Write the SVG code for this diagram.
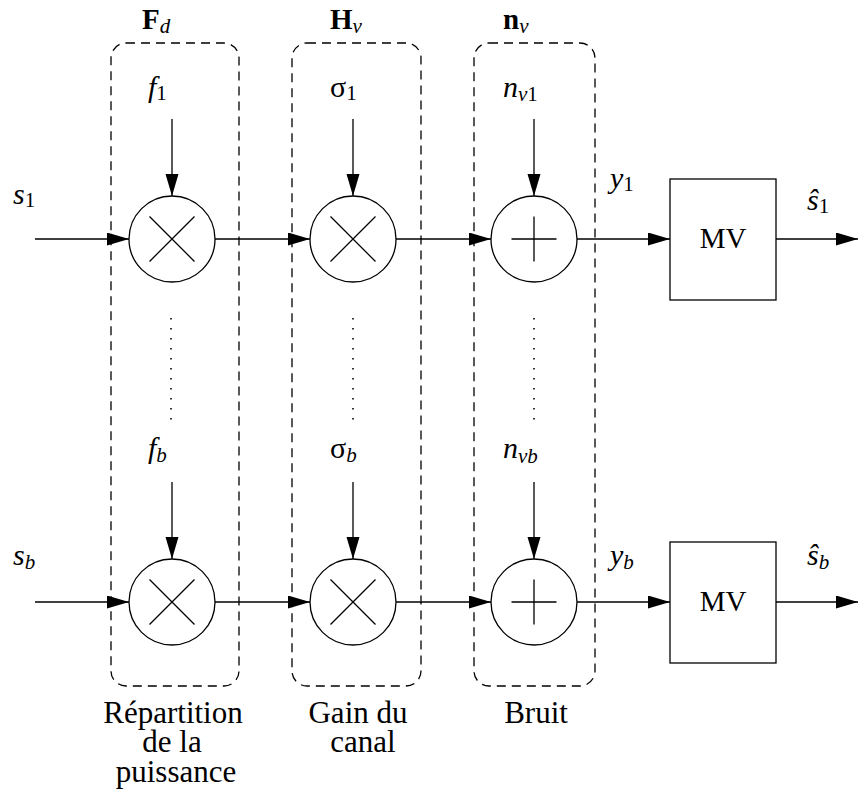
<svg xmlns="http://www.w3.org/2000/svg" width="859" height="794" viewBox="0 0 859 794">
<style>
  .ln { stroke:#000; stroke-width:1.3; fill:none; }
  .arr { stroke:#000; stroke-width:1.3; fill:none; marker-end:url(#ah); }
  .dash { stroke:#000; stroke-width:1.3; fill:none; stroke-dasharray:9 6; }
  .dot { stroke:#000; stroke-width:1.6; fill:none; stroke-dasharray:1.6 8.4; }
  text { font-family:"Liberation Serif","Times New Roman",serif; fill:#000; }
  .m { font-size:30px; font-style:italic; }
  .up { font-style:normal; }
  .sub { font-size:21px; }
  .hdr { font-size:29px; font-weight:bold; font-style:normal; }
  .hsub { font-size:21px; font-weight:normal; font-style:italic; }
  .lbl { font-size:31px; text-anchor:middle; }
  .mv { font-size:29px; text-anchor:middle; }
</style>
<defs>
  <marker id="ah" markerUnits="userSpaceOnUse" markerWidth="23" markerHeight="14" refX="22" refY="6.5" orient="auto">
    <path d="M0,0 L22,6.5 L0,13 Z" fill="#000"/>
  </marker>
</defs>

<g id="groups">
  <rect id="box-Fd" class="dash" x="111" y="43" width="128" height="643" rx="15"/>
  <rect id="box-Hv" class="dash" x="292" y="43" width="129" height="643" rx="15"/>
  <rect id="box-nv" class="dash" x="474" y="43" width="121" height="643" rx="15"/>
  <text class="hdr" x="142" y="29">F<tspan class="hsub" dy="4">d</tspan></text>
  <text class="hdr" x="330" y="29">H<tspan class="hsub" dy="4">v</tspan></text>
  <text class="hdr" x="503" y="29">n<tspan class="hsub" dy="4">v</tspan></text>
  <text class="lbl" x="173" y="723">Répartition</text>
  <text class="lbl" x="172" y="752">de la</text>
  <text class="lbl" x="176" y="782">puissance</text>
  <text class="lbl" x="358" y="723">Gain du</text>
  <text class="lbl" x="363" y="752">canal</text>
  <text class="lbl" x="536" y="723">Bruit</text>
</g>

<g id="connectors">
  <line class="arr" x1="35" y1="239" x2="129" y2="239"/>
  <line class="arr" x1="215" y1="239" x2="310" y2="239"/>
  <line class="arr" x1="396" y1="239" x2="491" y2="239"/>
  <line class="arr" x1="577" y1="239" x2="670" y2="239"/>
  <line class="arr" x1="776" y1="239" x2="858" y2="239"/>
  <line class="arr" x1="172" y1="119" x2="172" y2="196"/>
  <line class="arr" x1="353" y1="119" x2="353" y2="196"/>
  <line class="arr" x1="534" y1="119" x2="534" y2="196"/>

  <line class="arr" x1="35" y1="602" x2="129" y2="602"/>
  <line class="arr" x1="215" y1="602" x2="310" y2="602"/>
  <line class="arr" x1="396" y1="602" x2="491" y2="602"/>
  <line class="arr" x1="577" y1="602" x2="670" y2="602"/>
  <line class="arr" x1="776" y1="602" x2="858" y2="602"/>
  <line class="arr" x1="172" y1="482" x2="172" y2="559"/>
  <line class="arr" x1="353" y1="482" x2="353" y2="559"/>
  <line class="arr" x1="534" y1="482" x2="534" y2="559"/>

  <line class="dot" x1="171" y1="318" x2="171" y2="422"/>
  <line class="dot" x1="353" y1="318" x2="353" y2="422"/>
  <line class="dot" x1="534" y1="318" x2="534" y2="422"/>
</g>

<g id="mult-f1">
  <circle class="ln" cx="172" cy="239" r="43"/>
  <path class="ln" d="M149.5,216.5 L194.5,261.5 M194.5,216.5 L149.5,261.5"/>
</g>
<g id="mult-s1">
  <circle class="ln" cx="353" cy="239" r="43"/>
  <path class="ln" d="M330.5,216.5 L375.5,261.5 M375.5,216.5 L330.5,261.5"/>
</g>
<g id="add-n1">
  <circle class="ln" cx="534" cy="239" r="43"/>
  <path class="ln" d="M511.5,239 L556.5,239 M534,216.5 L534,261.5"/>
</g>
<g id="mv-1">
  <rect class="ln" x="670" y="179" width="106" height="121"/>
  <text class="mv" x="723" y="248">MV</text>
</g>

<g id="mult-fb">
  <circle class="ln" cx="172" cy="602" r="43"/>
  <path class="ln" d="M149.5,579.5 L194.5,624.5 M194.5,579.5 L149.5,624.5"/>
</g>
<g id="mult-sb">
  <circle class="ln" cx="353" cy="602" r="43"/>
  <path class="ln" d="M330.5,579.5 L375.5,624.5 M375.5,579.5 L330.5,624.5"/>
</g>
<g id="add-nb">
  <circle class="ln" cx="534" cy="602" r="43"/>
  <path class="ln" d="M511.5,602 L556.5,602 M534,579.5 L534,624.5"/>
</g>
<g id="mv-b">
  <rect class="ln" x="670" y="542" width="106" height="121"/>
  <text class="mv" x="723" y="611">MV</text>
</g>

<g id="labels">
  <text class="m" x="13" y="204">s<tspan class="sub up" dy="3">1</tspan></text>
  <text class="m" x="148" y="97">f<tspan class="sub up" dy="3">1</tspan></text>
  <text class="m up" x="330" y="97">σ<tspan class="sub" dy="3">1</tspan></text>
  <text class="m" x="503" y="97">n<tspan class="sub" dy="4">v</tspan><tspan class="sub up">1</tspan></text>
  <text class="m" x="610" y="188">y<tspan class="sub up" dy="3">1</tspan></text>
  <text class="m" x="807" y="210">ŝ<tspan class="sub up" dy="3">1</tspan></text>

  <text class="m" x="13" y="565">s<tspan class="sub" dy="4">b</tspan></text>
  <text class="m" x="148" y="458">f<tspan class="sub" dy="4">b</tspan></text>
  <text class="m up" x="330" y="458">σ<tspan class="sub" dy="4" font-style="italic">b</tspan></text>
  <text class="m" x="503" y="458">n<tspan class="sub" dy="5">vb</tspan></text>
  <text class="m" x="610" y="565">y<tspan class="sub" dy="4">b</tspan></text>
  <text class="m" x="807" y="565">ŝ<tspan class="sub" dy="4">b</tspan></text>
</g>
</svg>
